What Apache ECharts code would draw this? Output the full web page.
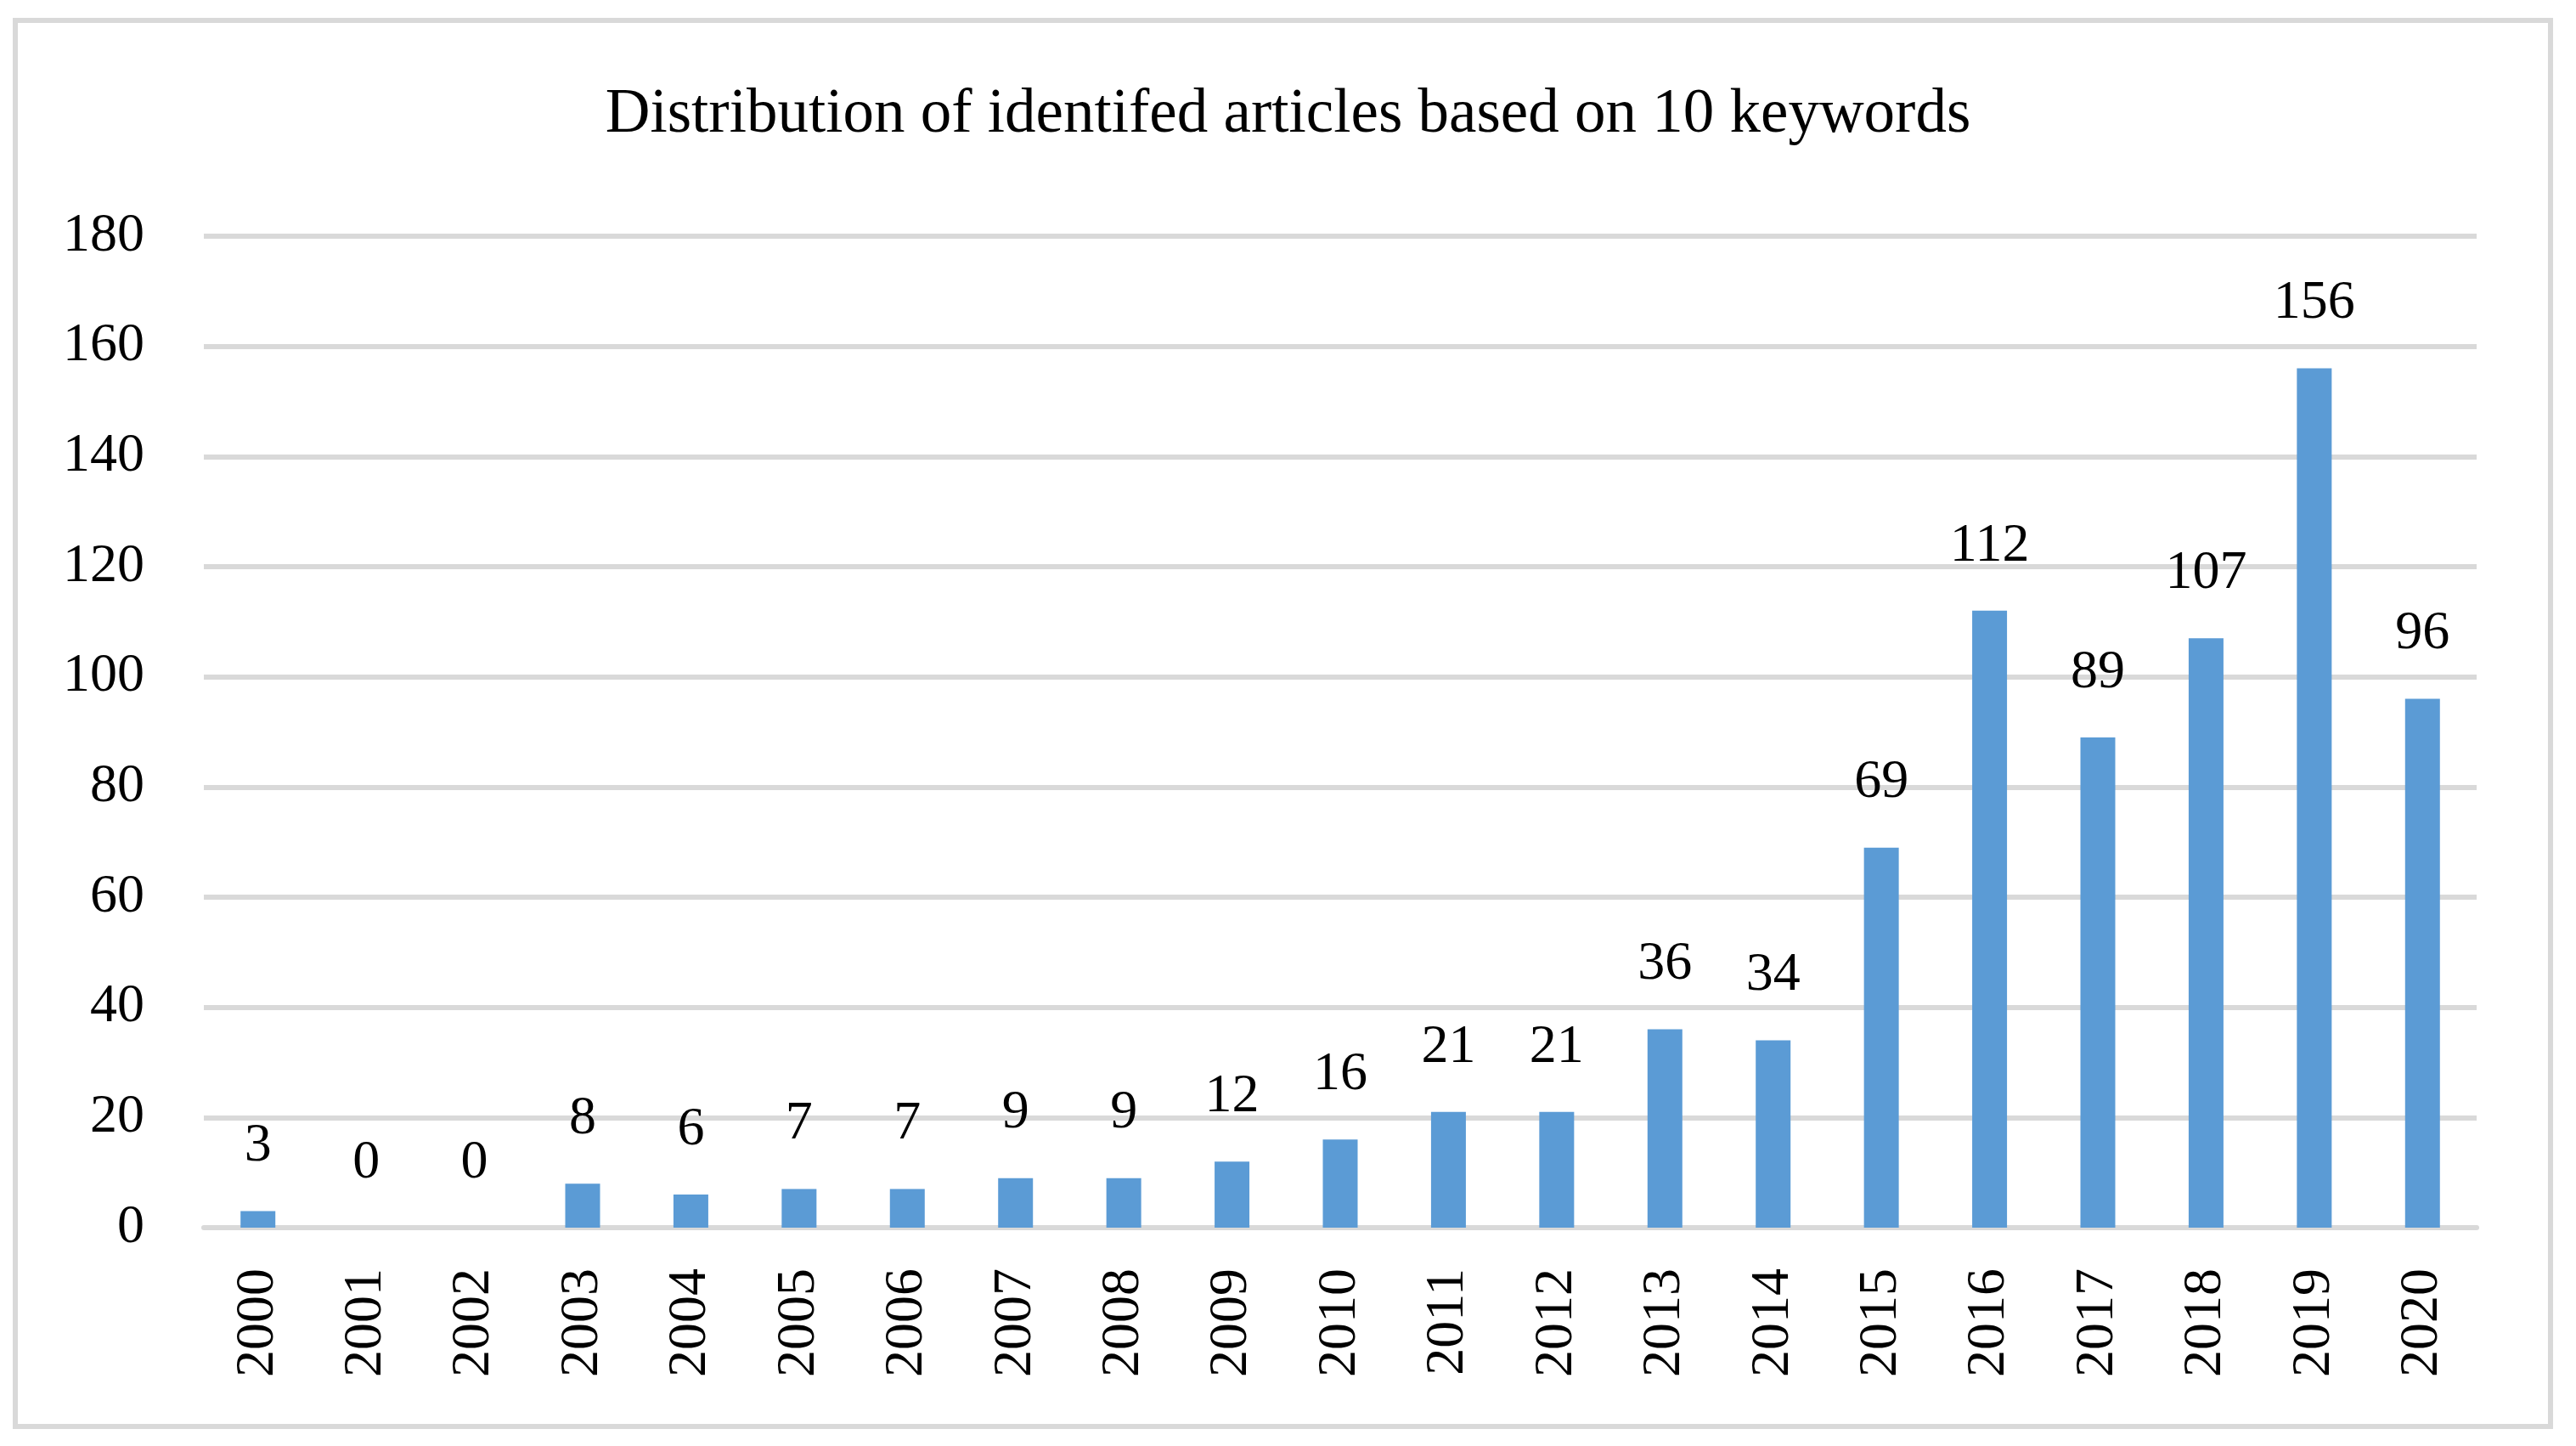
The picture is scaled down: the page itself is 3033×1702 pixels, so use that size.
<!DOCTYPE html>
<html lang="en">
<head>
    <meta charset="utf-8"/>
    <title>Distribution of identifed articles</title>
    <script src="https://cdn.jsdelivr.net/npm/echarts@6/dist/echarts.min.js"></script>
    <style>
        html, body { margin: 0; padding: 0; background: #ffffff; }
        #main { width: 3033px; height: 1702px; }
    </style>
</head>
<body>
<div id="main"></div>
<script type="text/javascript">

    // years on the x axis
    var years = ['2000', '2001', '2002', '2003', '2004', '2005', '2006', '2007', '2008', '2009', '2010',
        '2011', '2012', '2013', '2014', '2015', '2016', '2017', '2018', '2019', '2020'];

    // number of identified articles per year
    var articles = [3, 0, 0, 8, 6, 7, 7, 9, 9, 12, 16, 21, 21, 36, 34, 69, 112, 89, 107, 156, 96];

    // y axis range
    var yMin = 0;
    var yMax = 180;
    var yStep = 20;

    var font = '"Liberation Serif", "DejaVu Serif", serif';
    var gridGray = '#d9d9d9';

    var myChart = echarts.init(document.getElementById('main'));

    var option = {
        animation: false,
        backgroundColor: '#ffffff',
        title: {
            text: 'Distribution of identifed articles based on 10 keywords',
            left: 'center',
            top: 94,
            textStyle: {
                fontFamily: font,
                fontSize: 73,
                fontWeight: 'normal',
                color: '#000000'
            }
        },
        graphic: [{
            type: 'rect',
            shape: {x: 18, y: 24, width: 2985, height: 1655},
            style: {fill: 'none', stroke: gridGray, lineWidth: 6},
            silent: true
        }],
        grid: {
            left: 240,
            right: 117,
            top: 278,
            bottom: 257
        },
        xAxis: {
            type: 'category',
            data: years,
            axisLine: {show: true, lineStyle: {color: gridGray, width: 6}},
            axisTick: {show: false},
            axisLabel: {
                rotate: 90,
                margin: 48,
                fontFamily: font,
                fontSize: 64,
                color: '#000000'
            }
        },
        yAxis: {
            type: 'value',
            min: yMin,
            max: yMax,
            interval: yStep,
            axisLine: {show: false},
            axisTick: {show: false},
            splitLine: {lineStyle: {color: gridGray, width: 6}},
            axisLabel: {
                margin: 70,
                fontFamily: font,
                fontSize: 64,
                color: '#000000'
            }
        },
        series: [{
            type: 'bar',
            data: articles,
            barWidth: 41,
            itemStyle: {color: '#5b9bd5'},
            label: {
                show: true,
                position: 'top',
                distance: 44,
                fontFamily: font,
                fontSize: 64,
                color: '#000000'
            }
        }]
    };

    myChart.setOption(option);
</script>
</body>
</html>
